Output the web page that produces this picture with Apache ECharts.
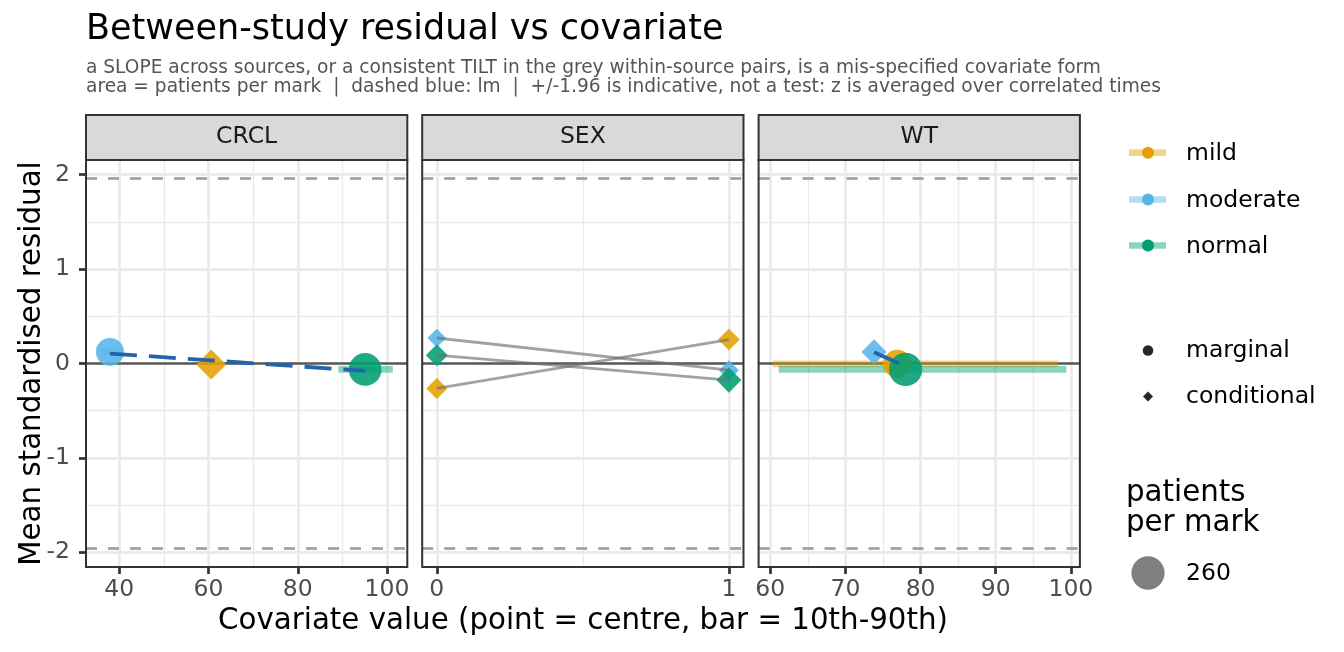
<!DOCTYPE html>
<html>
<head>
<meta charset="utf-8">
<script src="https://cdn.jsdelivr.net/npm/echarts@6/dist/echarts.min.js"></script>
<style>
html, body { margin: 0; padding: 0; background: #fff; }
#chart { width: 1344px; height: 652px; }
</style>
</head>
<body>
<div id="chart"></div>
<script>
var panels = ['CRCL', 'SEX', 'WT'];
var groups = ['mild', 'moderate', 'normal'];
var groupColors = ['#E69F00', '#56B4E9', '#009E73'];

var yRange = [-2.156, 2.156];
var yTicks = [-2, -1, 0, 1, 2];
var yMinor = [-1.5, -0.5, 0.5, 1.5];
var refLines = [-1.96, 1.96];

var crclRange = [32.53, 104.55];
var crclTicks = [40, 60, 80, 100];
var crclMinor = [50, 70, 90];
var sexRange = [-0.05, 1.05];
var sexTicks = [0, 1];
var sexMinor = [0.5];
var wtRange = [58.44, 101.2];
var wtTicks = [60, 70, 80, 90, 100];
var wtMinor = [65, 75, 85, 95];

// one mark per group (mild, moderate, normal)
var crclCentre = [60.6, 37.9, 95.1];
var crclResid = [-0.011, 0.123, -0.063];
var crclKind = ['conditional', 'marginal', 'marginal'];
var crclPatients = [211, 184, 250];
var crclBarLo = [null, 35.8, 89.1];
var crclBarHi = [null, 40.8, 101.3];
var crclLmX = [37.9, 95.1];
var crclLmY = [0.105, -0.078];

// SEX: conditional marks at 0 and 1, paired within group
var sexLevels = [0, 1];
var sexResid = [[-0.264, 0.254], [0.270, -0.071], [0.088, -0.176]];
var sexPatients = [[103, 110], [82, 94], [113, 147]];

var wtCentre = [76.9, 73.8, 78.0];
var wtResid = [-0.004, 0.123, -0.063];
var wtKind = ['marginal', 'conditional', 'marginal'];
var wtPatients = [184, 147, 260];
var wtBarLo = [60.35, null, 61.1];
var wtBarHi = [98.3, null, 99.4];
var wtLmX = [73.8, 78.0];
var wtLmY = [0.12, -0.03];

var legendPatients = 260;

// layout
var FONT = 'DejaVu Sans';
var panelLeft = [86, 422.2, 758.6];
var panelW = 321.3;
var panelTop = 160;
var panelH = 407;

function markSize(n) {
    return 2.065 * Math.sqrt(n);
}
function fade(hex, a) {
    var r = parseInt(hex.slice(1, 3), 16), g = parseInt(hex.slice(3, 5), 16), b = parseInt(hex.slice(5, 7), 16);
    return 'rgba(' + r + ',' + g + ',' + b + ',' + a + ')';
}

var chart = echarts.init(document.getElementById('chart'), null, {renderer: 'canvas'});

var xRanges = [crclRange, sexRange, wtRange];
var xTicks = [crclTicks, sexTicks, wtTicks];
var xMinors = [crclMinor, sexMinor, wtMinor];
var xSteps = [20, 1, 10];

var grids = [], xAxes = [], yAxes = [], series = [];

for (var i = 0; i < 3; i++) {
    grids.push({left: panelLeft[i], top: panelTop, width: panelW, height: panelH, containLabel: false});
    xAxes.push({
        type: 'value', gridIndex: i, min: xRanges[i][0], max: xRanges[i][1],
        minInterval: xSteps[i], maxInterval: xSteps[i],
        axisLine: {show: false, onZero: false},
        axisTick: {show: true, customValues: xTicks[i], length: 7, lineStyle: {color: '#333333', width: 2.7}},
        axisLabel: {customValues: xTicks[i], margin: 11, hideOverlap: false,
            color: '#4d4d4d', fontSize: 23.5, fontFamily: FONT},
        splitLine: {show: false}
    });
    yAxes.push({
        type: 'value', gridIndex: i, min: yRange[0], max: yRange[1],
        minInterval: 1, maxInterval: 1,
        axisLine: {show: false, onZero: false},
        axisTick: {show: i === 0, customValues: yTicks, length: 7, lineStyle: {color: '#333333', width: 2.7}},
        axisLabel: {show: i === 0, customValues: yTicks, margin: 16,
            color: '#4d4d4d', fontSize: 23.5, fontFamily: FONT},
        splitLine: {show: false}
    });

    // panel grid lines
    var gl = [];
    xMinors[i].forEach(function (v) { gl.push({xAxis: v, lineStyle: {color: '#ebebeb', width: 1.4, type: 'solid'}}); });
    yMinor.forEach(function (v) { gl.push({yAxis: v, lineStyle: {color: '#ebebeb', width: 1.4, type: 'solid'}}); });
    xTicks[i].forEach(function (v) { gl.push({xAxis: v, lineStyle: {color: '#ebebeb', width: 2.8, type: 'solid'}}); });
    yTicks.forEach(function (v) { gl.push({yAxis: v, lineStyle: {color: '#ebebeb', width: 2.8, type: 'solid'}}); });
    series.push({
        type: 'line', xAxisIndex: i, yAxisIndex: i, data: [], silent: true,
        markLine: {z: 1, silent: true, symbol: ['none', 'none'], label: {show: false}, animation: false, data: gl}
    });

    // reference lines: zero and +/-1.96
    var rl = [{yAxis: 0, lineStyle: {color: '#595959', width: 2.6, type: 'solid'}}];
    refLines.forEach(function (v) { rl.push({yAxis: v, lineStyle: {color: '#a0a0a0', width: 2.7, type: [11, 11]}}); });
    series.push({
        type: 'line', xAxisIndex: i, yAxisIndex: i, data: [], silent: true,
        markLine: {z: 2, silent: true, symbol: ['none', 'none'], label: {show: false}, animation: false, data: rl}
    });
}

function addMarks(gi, centre, resid, kind, patients, lo, hi) {
    var pts = [];
    for (var k = 0; k < groups.length; k++) {
        if (kind[k] === 'marginal' && lo[k] != null) {
            series.push({
                type: 'line', xAxisIndex: gi, yAxisIndex: gi, z: 3, symbol: 'none', silent: true,
                data: [[lo[k], resid[k]], [hi[k], resid[k]]],
                lineStyle: {color: groupColors[k], opacity: 0.45, width: 6.7, cap: 'butt'}
            });
        }
        pts.push({
            value: [centre[k], resid[k]],
            symbol: kind[k] === 'marginal' ? 'circle' : 'diamond',
            symbolSize: markSize(patients[k]),
            itemStyle: {color: groupColors[k], opacity: 0.88}
        });
    }
    series.push({type: 'scatter', xAxisIndex: gi, yAxisIndex: gi, z: 4, silent: true, data: pts});
}

function addLm(gi, xs, ys) {
    series.push({
        type: 'line', xAxisIndex: gi, yAxisIndex: gi, z: 5, symbol: 'none', silent: true,
        data: xs.map(function (x, j) { return [x, ys[j]]; }),
        lineStyle: {color: '#2166ac', width: 3.8, type: [27, 12], cap: 'butt'}
    });
}

addMarks(0, crclCentre, crclResid, crclKind, crclPatients, crclBarLo, crclBarHi);
addLm(0, crclLmX, crclLmY);

// SEX: grey within-source pairs + diamonds
var sexPts = [];
for (var k = 0; k < groups.length; k++) {
    series.push({
        type: 'line', xAxisIndex: 1, yAxisIndex: 1, z: 5, symbol: 'none', silent: true,
        data: sexLevels.map(function (x, j) { return [x, sexResid[k][j]]; }),
        lineStyle: {color: '#6e6e6e', opacity: 0.65, width: 2.8}
    });
    for (var j = 0; j < sexLevels.length; j++) {
        sexPts.push({
            value: [sexLevels[j], sexResid[k][j]],
            symbol: 'diamond',
            symbolSize: markSize(sexPatients[k][j]),
            itemStyle: {color: groupColors[k], opacity: 0.88}
        });
    }
}
series.push({type: 'scatter', xAxisIndex: 1, yAxisIndex: 1, z: 4, silent: true, data: sexPts});

addMarks(2, wtCentre, wtResid, wtKind, wtPatients, wtBarLo, wtBarHi);
addLm(2, wtLmX, wtLmY);

// text, strips, borders, legend
var g = [];
function txt(x, y, s, size, color, align, extra) {
    var el = {type: 'text', x: x, y: y, z: 100,
        style: {text: s, font: size + 'px "' + FONT + '"', fill: color, align: align || 'left', verticalAlign: 'middle'}};
    if (extra) { for (var key in extra) el[key] = extra[key]; }
    return el;
}
g.push(txt(86, 30, 'Between-study residual vs covariate', 35, '#000000'));
g.push(txt(86, 68.5, 'a SLOPE across sources, or a consistent TILT in the grey within-source pairs, is a mis-specified covariate form', 18.6, '#555555'));
g.push(txt(86, 87.5, 'area = patients per mark  |  dashed blue: lm  |  +/-1.96 is indicative, not a test: z is averaged over correlated times', 18.6, '#555555'));

for (var p = 0; p < 3; p++) {
    g.push({type: 'rect', z: 100, shape: {x: panelLeft[p], y: 115, width: panelW, height: panelTop - 115},
        style: {fill: '#d9d9d9', stroke: '#333333', lineWidth: 2}});
    g.push(txt(panelLeft[p] + panelW / 2, 136.5, panels[p], 23.5, '#1a1a1a', 'center'));
    g.push({type: 'rect', z: 100, shape: {x: panelLeft[p], y: panelTop, width: panelW, height: panelH},
        style: {fill: null, stroke: '#333333', lineWidth: 2}});
}

g.push(txt(583, 621, 'Covariate value (point = centre, bar = 10th-90th)', 29.3, '#000000', 'center'));
g.push(txt(32, 363.5, 'Mean standardised residual', 29.3, '#000000', 'center', {rotation: Math.PI / 2}));

var legY = [152.7, 199.5, 245.5];
for (var k = 0; k < groups.length; k++) {
    g.push({type: 'rect', z: 100, shape: {x: 1129, y: legY[k] - 3.35, width: 37, height: 6.7},
        style: {fill: fade(groupColors[k], 0.45)}});
    g.push({type: 'circle', z: 101, shape: {cx: 1148, cy: legY[k], r: 6}, style: {fill: groupColors[k]}});
    g.push(txt(1186, legY[k] + 1, groups[k], 23.5, '#000000'));
}
g.push({type: 'circle', z: 100, shape: {cx: 1148, cy: 350.5, r: 5.3}, style: {fill: '#262626'}});
g.push(txt(1186, 351, 'marginal', 23.5, '#000000'));
g.push({type: 'polygon', z: 100, shape: {points: [[1148, 391.5], [1153, 396.5], [1148, 401.5], [1143, 396.5]]}, style: {fill: '#262626'}});
g.push(txt(1186, 397, 'conditional', 23.5, '#000000'));
g.push(txt(1126, 493, 'patients', 29.3, '#000000'));
g.push(txt(1126, 523, 'per mark', 29.3, '#000000'));
g.push({type: 'circle', z: 100, shape: {cx: 1148, cy: 573, r: markSize(legendPatients) / 2}, style: {fill: '#7f7f7f'}});
g.push(txt(1186, 574, String(legendPatients), 23.5, '#000000'));

chart.setOption({
    animation: false,
    backgroundColor: '#ffffff',
    grid: grids,
    xAxis: xAxes,
    yAxis: yAxes,
    series: series,
    graphic: {elements: g}
});
</script>
</body>
</html>
